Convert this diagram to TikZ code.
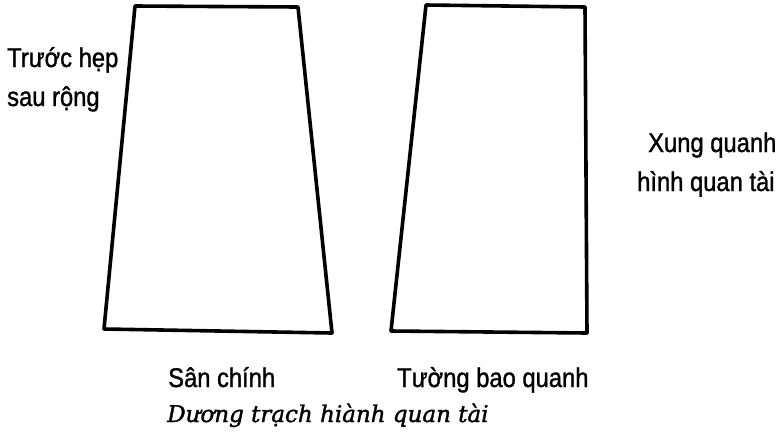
\documentclass[tikz,border=0pt]{standalone}
\usepackage{fontspec}
\setmainfont[FakeStretch=0.88,FakeBold=1.2]{Liberation Sans}
\newfontfamily\captionfont[FakeBold=1.5]{DejaVu Serif}
\begin{document}
\begin{tikzpicture}[x=1pt,y=-1pt,
  wall/.style={line width=3.6pt,line join=round,black},
  lbl/.style={anchor=base west,inner sep=0pt,font=\fontsize{27}{30}\selectfont},
  titletext/.style={anchor=base west,inner sep=0pt,font=\captionfont\itshape\fontsize{23}{27}\selectfont}]
\useasboundingbox (0,0) rectangle (777,440);
% san chinh
\path (135,6) coordinate (A1) (298,7) coordinate (B1)
      (332,333) coordinate (C1) (104,329) coordinate (D1);
% tuong bao quanh
\path (426,5) coordinate (A2) (585,7) coordinate (B2)
      (587,333) coordinate (C2) (391,331) coordinate (D2);
\draw[wall] (A1)--(B1)--(C1)--(D1)--cycle;
\draw[wall] (A2)--(B2)--(C2)--(D2)--cycle;
\node[lbl] (truoc) at (7,67) {Trước hẹp};
\node[lbl] (sau) at (7,106) {sau rộng};
\node[lbl] (xung) at (648,152) {Xung quanh};
\node[lbl] (hinh) at (637,191) {hình quan tài};
\node[lbl] (san) at (168,387) {Sân chính};
\node[lbl] (tuong) at (397,387) {Tường bao quanh};
\node[titletext] (tieude) at (167,422) {Dương trạch hiành quan tài};
\end{tikzpicture}
\end{document}
